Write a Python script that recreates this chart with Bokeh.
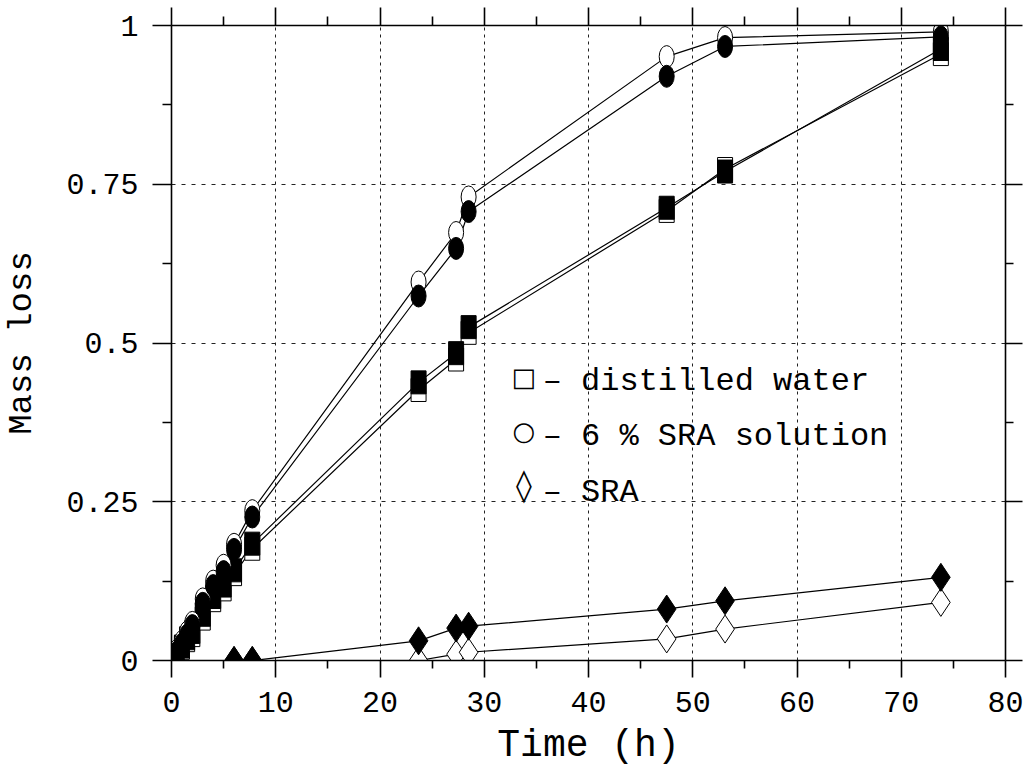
from bokeh.plotting import figure
from bokeh.models import Range1d, FixedTicker, LinearAxis, Label, CustomLabelingPolicy
from bokeh.embed import file_html
from bokeh.resources import INLINE

# ---------------- data ----------------
time_h = [0, 0.5, 1, 1.5, 2, 3, 4, 5, 6, 7.75, 23.7, 27.3, 28.5, 47.5, 53.1, 73.8]
water_open = [0, 0.008, 0.020, 0.032, 0.040, 0.066, 0.095, 0.112, 0.136, 0.176,
              0.426, 0.474, 0.516, 0.708, 0.774, 0.955]
water_filled = [0, 0.010, 0.022, 0.035, 0.045, 0.072, 0.100, 0.118, 0.142, 0.184,
                0.438, 0.484, 0.525, 0.713, 0.770, 0.963]
sra6_open = [0, 0.016, 0.030, 0.045, 0.060, 0.097, 0.125, 0.150, 0.183, 0.236,
             0.596, 0.674, 0.730, 0.951, 0.981, 0.990]
sra6_filled = [0, 0.013, 0.026, 0.040, 0.055, 0.090, 0.118, 0.140, 0.175, 0.226,
               0.574, 0.649, 0.707, 0.920, 0.967, 0.982]
time_sra = [6, 7.75, 23.7, 27.3, 28.5, 47.5, 53.1, 73.8]
sra_open = [0, 0, 0, 0.010, 0.013, 0.034, 0.0495, 0.0915]
sra_filled = [0, 0, 0.031, 0.051, 0.054, 0.081, 0.094, 0.131]

x_ticks = [0, 10, 20, 30, 40, 50, 60, 70, 80]
x_minor = [5, 15, 25, 35, 45, 55, 65, 75]
x_grid = [10, 20, 30, 40, 50, 60, 70]
y_ticks = [0, 0.25, 0.5, 0.75, 1]
y_tick_labels = ["0", "0.25", "0.5", "0.75", "1"]
y_minor = [0.125, 0.375, 0.625, 0.875]
y_grid = [0.25, 0.5, 0.75]
legend_symbols = ["\u25a1", "\u25cb", "\u25ca"]
legend_labels = ["distilled water", "6 % SRA solution", "SRA"]

FONT = "Liberation Mono"

p = figure(width=1030, height=769, x_range=Range1d(0, 80), y_range=Range1d(0, 1),
           output_backend="svg", toolbar_location=None,
           min_border_left=169, min_border_right=25, min_border_top=25,
           min_border_bottom=108, outline_line_color=None,
           background_fill_color="white", border_fill_color="white")

xt = FixedTicker(ticks=x_ticks, minor_ticks=x_minor)
yt = FixedTicker(ticks=y_ticks, minor_ticks=y_minor)

xb = p.below[0]
yl = p.left[0]
hide_all = CustomLabelingPolicy(code="""
const arr = Array.from(indices.ones());
for (const i of arr) { indices.unset(i); }
return indices;
""")
xa = LinearAxis(ticker=xt, major_label_policy=hide_all)
yr = LinearAxis(ticker=yt, major_label_policy=hide_all)
p.add_layout(xa, "above")
p.add_layout(yr, "right")

xb.ticker = xt
yl.ticker = yt
yl.major_label_overrides = {t: s for t, s in zip(y_ticks, y_tick_labels)}

for ax, mt, nt in [(xb, 17, 8), (yl, 19, 9), (xa, 18, 9), (yr, 17, 8)]:
    ax.axis_line_color = "black"
    ax.axis_line_width = 1.6
    ax.major_tick_line_color = "black"
    ax.minor_tick_line_color = "black"
    ax.major_tick_line_width = 1.6
    ax.minor_tick_line_width = 1.6
    ax.major_tick_in = 0
    ax.minor_tick_in = 0
    ax.major_tick_out = mt
    ax.minor_tick_out = nt
    ax.major_label_text_font = FONT
    ax.major_label_text_font_size = "30px"
    ax.major_label_text_color = "black"

for ax in (xa, yr):
    ax.major_label_text_font_size = "0px"
    ax.major_label_standoff = 0

xb.major_label_standoff = 14
yl.major_label_standoff = 14
xb.axis_label = "Time (h)"
yl.axis_label = "Mass loss"
for ax, fs, so in [(xb, "38px", 9), (yl, "34px", 22)]:
    ax.axis_label_text_font = FONT
    ax.axis_label_text_font_size = fs
    ax.axis_label_text_font_style = "normal"
    ax.axis_label_text_color = "black"
    ax.axis_label_standoff = so

p.xgrid.ticker = FixedTicker(ticks=x_grid)
p.ygrid.ticker = FixedTicker(ticks=y_grid)
p.xgrid.grid_line_color = "#222222"
p.ygrid.grid_line_color = "#222222"
p.xgrid.grid_line_width = 1
p.ygrid.grid_line_width = 1
p.xgrid.grid_line_dash = "3 4"
p.ygrid.grid_line_dash = "4 6"

# connecting lines
for xs, ys in [(time_h, water_open), (time_h, water_filled),
               (time_h, sra6_open), (time_h, sra6_filled),
               (time_sra, sra_open), (time_sra, sra_filled)]:
    p.line(xs, ys, line_color="black", line_width=1.2)

# markers
p.rect(time_h, water_open, width=15, height=23, width_units="screen", height_units="screen",
       fill_color="white", line_color="black", line_width=1)
p.rect(time_h, water_filled, width=15, height=23, width_units="screen", height_units="screen",
       fill_color="black", line_color="black", line_width=1)
p.ellipse(time_h, sra6_open, width=15, height=22, width_units="screen", height_units="screen",
          fill_color="white", line_color="black", line_width=1)
p.ellipse(time_h, sra6_filled, width=15, height=22, width_units="screen", height_units="screen",
          fill_color="black", line_color="black", line_width=1)
p.scatter(time_sra, sra_open, marker="diamond", size=28,
          fill_color="white", line_color="black", line_width=1)
p.scatter(time_sra, sra_filled, marker="diamond", size=28,
          fill_color="black", line_color="black", line_width=1)

# legend (text)
sym_y = [0.447, 0.362, 0.276]
txt_y = [0.440, 0.352, 0.264]
sym_size = ["26px", "26px", "32px"]
for s, lab, sy, ty, ss in zip(legend_symbols, legend_labels, sym_y, txt_y, sym_size):
    p.add_layout(Label(x=33.8, y=sy, text=s, text_font="DejaVu Sans", text_font_size=ss,
                       text_align="center", text_baseline="middle", text_color="black"))
    p.add_layout(Label(x=35.6, y=ty, text="\u2013 " + lab, text_font=FONT,
                       text_font_size="32px", text_align="left",
                       text_baseline="alphabetic", text_color="black"))

open("out.html", "w").write(file_html(p, INLINE))
